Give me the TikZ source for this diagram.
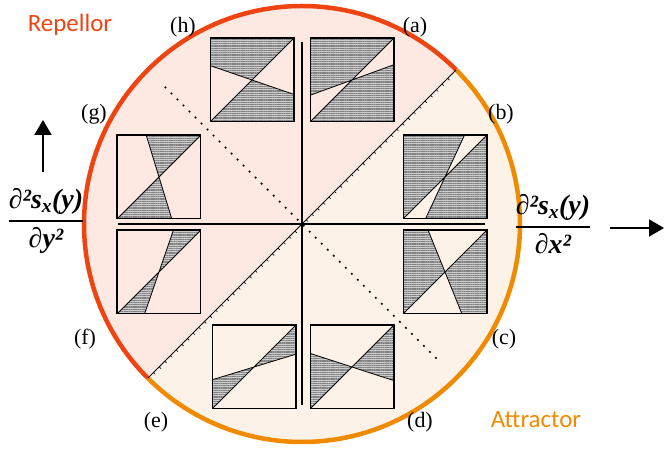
\documentclass[tikz,border=0pt]{standalone}
\usepackage{amsmath}
\usepackage{fontspec}
\setmainfont{Liberation Serif}
\newfontfamily\notefont{Carlito}
\usetikzlibrary{arrows.meta, patterns.meta}

\definecolor{repred}{RGB}{238,68,18}
\definecolor{attorange}{RGB}{240,138,0}
\definecolor{repfill}{RGB}{253,232,226}
\definecolor{attfill}{RGB}{253,242,231}

\begin{document}
\begin{tikzpicture}[
  x=1bp, y=1bp,
  panel/.style={minimum size=83bp, inner sep=0pt},
  caselabel/.style={anchor=base, font=\fontsize{22}{24}\selectfont},
  note/.style={anchor=base, font=\notefont\fontsize{25}{28}\selectfont},
  deriv/.style={inner sep=0pt, font=\fontsize{28}{32}\selectfont\bfseries\itshape},
  hatched/.style={fill=black!20, postaction={pattern={Lines[angle=0, distance=1.8bp, line width=0.7bp]}, pattern color=black!50}}
]
  \useasboundingbox (-302,-226) rectangle (362,224);
  % disc: repellor half and attractor half
  \fill[repfill] (45:218) arc[start angle=45, end angle=225, radius=218] -- cycle;
  \fill[attfill] (225:218) arc[start angle=225, end angle=405, radius=218] -- cycle;
  \draw[repred, line width=4.5bp] (45:218) arc[start angle=45, end angle=225, radius=218];
  \draw[attorange, line width=4.5bp] (225:218) arc[start angle=225, end angle=405, radius=218];

  % separatrix with ticks, and the dotted diagonal
  \coordinate (sw) at (225:218);
  \coordinate (ne) at (45:218);
  \draw[line width=1bp] (sw) -- (ne);
  \foreach \t in {-210,-202,...,210}
    \draw[line width=0.6bp] (45:\t) -- ++(-45:2.5);
  \coordinate (dotA) at (135:194);
  \coordinate (dotB) at (-45:196);
  \draw[line width=1.6bp, dash pattern=on 1.8bp off 6.7bp] (dotA) -- (dotB);

  % axes
  \coordinate (vtop) at (0,182);
  \coordinate (vbot) at (0,-181);
  \coordinate (hleft) at (-184,0);
  \coordinate (hright) at (183,0);
  \draw[line width=1.4bp] (vtop) -- (vbot);
  \draw[line width=1.4bp] (hleft) -- (hright);

  % panels
  \node[panel] (h) at (-50,144) {};
  \node[panel] (a) at (50,144) {};
  \node[panel] (g) at (-143,47) {};
  \node[panel] (b) at (143,47) {};
  \node[panel] (f) at (-143,-48) {};
  \node[panel] (c) at (143,-48) {};
  \node[panel] (e) at (-48,-143) {};
  \node[panel] (d) at (50,-143) {};
  \foreach \n/\p/\q in {h/45/161, a/45/200, g/45/107, b/65/225, f/45/71, c/112/225, e/17/45, d/162/225} {
    \begin{scope}
      \clip (\n.south west) rectangle (\n.north east);
      \begin{scope}[shift={(\n.center)}]
        \path[hatched] (0,0) -- (\p:100) -- ({(\p+\q)/2}:100) -- (\q:100) -- cycle
                       (0,0) -- (\p+180:100) -- ({(\p+\q)/2+180}:100) -- (\q+180:100) -- cycle;
        \draw[line width=0.8bp] (\p:100) -- (\p+180:100) (\q:100) -- (\q+180:100);
      \end{scope}
    \end{scope}
    \draw[line width=1.6bp] (\n.south west) rectangle (\n.north east);
  }

  % case labels
  \node[caselabel] (lh) at (-119,191) {(h)};
  \node[caselabel] (la) at (113,191) {(a)};
  \node[caselabel] (lg) at (-208,104) {(g)};
  \node[caselabel] (lb) at (199,104) {(b)};
  \node[caselabel] (lf) at (-217,-121) {(f)};
  \node[caselabel] (lc) at (202,-121) {(c)};
  \node[caselabel] (le) at (-146,-204) {(e)};
  \node[caselabel] (ld) at (118,-204) {(d)};

  \node[note, text=repred] (rep) at (-232,192) {Repellor};
  \node[note, text=attorange] (att) at (234,-204) {Attractor};

  % second derivatives and their directions
  \node[deriv] (dyy) at (-256,3) {$\genfrac{}{}{1.8bp}{0}{\hbox{∂²s\textsubscript{x}(y)}}{\hbox{∂y²}}$};
  \node[deriv] (dxx) at (251,0) {$\genfrac{}{}{1.8bp}{0}{\hbox{∂²s\textsubscript{x}(y)}}{\hbox{∂x²}}$};
  \coordinate (upfoot) at (-259,52);
  \coordinate (uptip) at (-259,104);
  \coordinate (rtfoot) at (308,-4);
  \coordinate (rttip) at (362,-4);
  \draw[-{Triangle[width=17bp,length=15bp]}, line width=2bp] (upfoot) -- (uptip);
  \draw[-{Triangle[width=17bp,length=15bp]}, line width=2bp] (rtfoot) -- (rttip);
\end{tikzpicture}
\end{document}
